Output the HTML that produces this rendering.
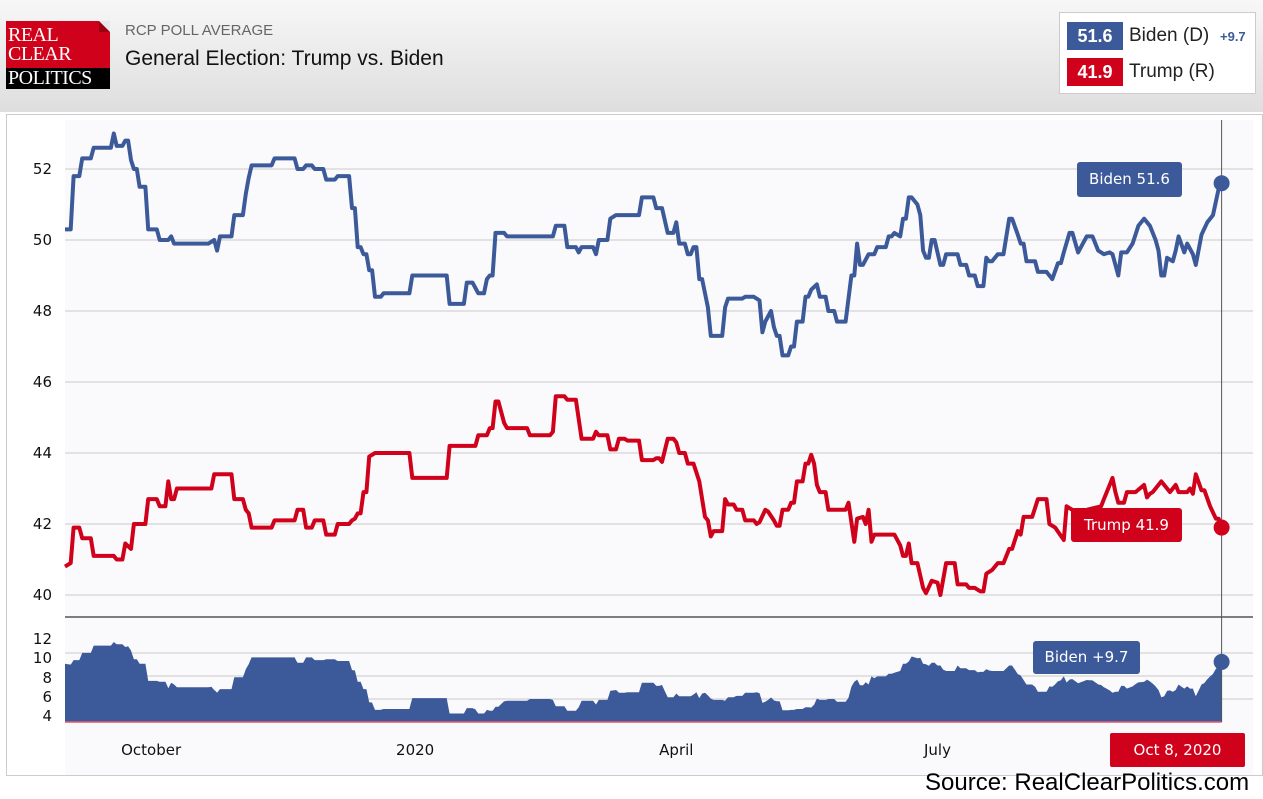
<!DOCTYPE html>
<html><head><meta charset="utf-8">
<style>
html,body{margin:0;padding:0;}
body{width:1263px;height:799px;overflow:hidden;position:relative;font-family:"Liberation Sans",sans-serif;background:linear-gradient(#f6f6f6 0px,#e6e6e6 60px,#dcdcdc 112px,#fff 112px);}
.abs{position:absolute;}
</style></head>
<body>
<div class="abs" style="left:0;top:0;width:1263px;height:112px;background:linear-gradient(#f7f7f7,#dedede);"></div>
<div class="abs" style="left:6px;top:21px;width:104px;height:68px;background:#d0021b;overflow:hidden;">
  <div class="abs" style="right:0;top:0;width:0;height:0;border-top:11px solid #e9e9e9;border-left:11px solid #9a0010;"></div>
  <div class="abs" style="left:0;top:47px;width:104px;height:21px;background:#000;"></div>
  <div class="abs" style="left:2px;top:5px;color:#fff;font-family:'Liberation Serif',serif;font-size:20px;line-height:19px;letter-spacing:-0.5px;">REAL<br>CLEAR</div>
  <div class="abs" style="left:2px;top:47px;color:#fff;font-family:'Liberation Serif',serif;font-size:20px;line-height:21px;letter-spacing:-0.5px;">POLITICS</div>
</div>
<div class="abs" style="left:125px;top:22px;font-size:15px;color:#666;">RCP POLL AVERAGE</div>
<div class="abs" style="left:125px;top:47px;font-size:21px;color:#111;">General Election: Trump vs. Biden</div>

<div class="abs" style="left:1059px;top:12px;width:197px;height:82px;background:#fff;border:1px solid #ccc;box-sizing:border-box;">
  <div class="abs" style="left:7px;top:9px;width:190px;height:28px;">
    <div class="abs" style="left:0;top:0;width:56px;height:28px;background:#3c5a99;color:#fff;font-size:18px;font-weight:bold;text-align:center;line-height:28px;">51.6</div>
    <div class="abs" style="left:62px;top:3px;font-size:19px;color:#222;">Biden (D)</div>
    <div class="abs" style="left:153px;top:7px;font-size:13px;color:#3c5a99;font-weight:bold;">+9.7</div>
  </div>
  <div class="abs" style="left:7px;top:45px;width:190px;height:28px;">
    <div class="abs" style="left:0;top:0;width:56px;height:28px;background:#d0021b;color:#fff;font-size:18px;font-weight:bold;text-align:center;line-height:28px;">41.9</div>
    <div class="abs" style="left:62px;top:3px;font-size:19px;color:#222;">Trump (R)</div>
  </div>
</div>

<div class="abs" style="left:6px;top:114px;width:1257px;height:662px;background:#fff;border:1px solid #ccc;box-sizing:border-box;"></div>

<svg class="abs" style="left:0;top:0;" width="1263" height="799" id="chart">
  <rect x="65" y="120" width="1188" height="655" fill="#fafafd"/>
  <g id="grid"></g>
  <g id="lower"></g>
  <g id="lines"></g>
  <g id="labels" font-family="'DejaVu Sans',sans-serif" font-size="15" fill="#111"></g>
</svg>

<div class="abs" style="left:1077px;top:162px;width:105px;height:35px;background:#3c5a99;border-radius:3px;color:#fff;font-family:'DejaVu Sans',sans-serif;font-size:15px;line-height:35px;text-align:center;">Biden 51.6</div>
<div class="abs" style="left:1071px;top:508px;width:111px;height:34px;background:#d0021b;border-radius:3px;color:#fff;font-family:'DejaVu Sans',sans-serif;font-size:15px;line-height:34px;text-align:center;">Trump 41.9</div>
<div class="abs" style="left:1033px;top:641px;width:107px;height:33px;background:#3c5a99;border-radius:3px;color:#fff;font-family:'DejaVu Sans',sans-serif;font-size:15px;line-height:33px;text-align:center;">Biden +9.7</div>
<div class="abs" style="left:1110px;top:733px;width:135px;height:34px;background:#d0021b;border-radius:2px;color:#fff;font-family:'DejaVu Sans',sans-serif;font-size:15px;line-height:34px;text-align:center;">Oct 8, 2020</div>
<div class="abs" style="left:925px;top:769px;font-size:24px;color:#000;white-space:nowrap;">Source: RealClearPolitics.com</div>

<script>
const bidenDays=[0,2,3,5,6,9,10,16,17,18,20,21,22,23,24,25,26,28,29,32,33,36,37,38,50,52,53,54,58,59,62,63,64,65,72,73,80,81,83,84,86,87,90,91,94,95,99,100,101,102,103,104,105,106,107,108,110,111,120,121,133,134,139,140,142,144,146,147,148,149,150,153,154,170,171,174,175,178,179,180,184,185,186,189,190,192,200,201,205,206,208,210,212,213,214,216,217,218,219,220,221,222,224,225,229,230,231,236,237,240,242,243,244,246,247,248,249,250,252,253,254,255,257,258,259,260,262,263,265,266,268,269,272,274,275,276,277,278,280,282,283,286,287,288,289,291,292,293,294,295,297,298,299,300,301,302,303,305,306,307,311,312,314,315,317,318,320,321,322,323,325,327,329,330,332,333,334,335,338,339,342,344,346,347,348,350,351,353,356,358,360,362,364,365,367,368,370,372,374,376,378,380,381,382,383,384,386,387,388,390,391,393,394,396,398,400,402,403];
const bidenVals=[50.3,50.3,51.8,51.8,52.3,52.3,52.6,52.6,53.0,52.65,52.65,52.8,52.8,52.25,52.0,52.0,51.5,51.5,50.3,50.3,50.0,50.0,50.1,49.9,49.9,50.0,49.7,50.1,50.1,50.7,50.7,51.3,51.75,52.1,52.1,52.3,52.3,52.0,52.0,52.1,52.1,52.0,52.0,51.7,51.7,51.8,51.8,50.9,50.9,49.8,49.8,49.6,49.6,49.15,49.15,48.4,48.4,48.5,48.5,49.0,49.0,48.2,48.2,48.8,48.8,48.5,48.5,48.9,49.0,49.0,50.2,50.2,50.1,50.1,50.4,50.4,49.8,49.8,49.65,49.8,49.8,49.6,50.0,50.0,50.6,50.7,50.7,51.2,51.2,50.9,50.9,50.2,50.2,50.5,49.9,49.9,49.6,49.6,49.8,49.8,48.9,48.9,48.1,47.3,47.3,48.1,48.35,48.35,48.4,48.4,48.3,47.4,47.7,48.0,47.55,47.3,47.3,46.75,46.75,47.0,47.0,47.7,47.7,48.4,48.4,48.6,48.75,48.4,48.4,48.0,48.0,47.7,47.7,49.0,49.0,49.9,49.3,49.3,49.6,49.6,49.8,49.8,50.1,50.1,50.2,50.1,50.6,50.6,51.2,51.2,51.0,50.7,49.7,49.5,49.5,50.0,50.0,49.3,49.3,49.6,49.6,49.3,49.3,49.0,49.0,48.7,48.7,49.5,49.4,49.4,49.6,49.6,50.6,50.6,50.15,49.9,49.9,49.4,49.4,49.1,49.1,48.9,49.35,49.35,49.65,50.2,50.2,49.65,50.1,50.1,49.7,49.6,49.65,49.6,49.0,49.65,49.65,49.9,50.4,50.6,50.4,50.0,49.7,49.0,49.0,49.5,49.4,49.7,50.1,49.65,49.9,49.6,49.3,50.15,50.5,50.7,51.45,51.6];
const trumpDays=[0,2,3,5,6,9,10,17,18,20,21,23,24,28,29,32,33,35,36,37,38,39,51,52,58,59,62,63,64,65,72,73,80,81,83,84,86,87,90,91,94,95,99,100,101,102,103,104,105,106,107,108,120,121,133,134,143,144,147,148,149,150,151,153,154,161,162,169,170,171,174,175,178,180,184,185,186,189,190,192,193,195,196,200,201,205,206,207,208,210,212,213,214,216,217,219,221,223,224,225,226,229,230,231,233,234,236,237,240,241,242,244,245,247,248,249,250,252,253,254,255,257,258,259,260,261,262,263,265,266,272,273,275,276,278,279,280,281,282,289,291,292,293,294,295,297,299,300,302,304,305,307,310,311,314,315,317,319,320,321,323,325,327,329,330,332,333,334,337,339,342,343,345,348,349,353,356,361,362,364,365,366,367,369,370,373,376,377,378,379,382,385,387,388,391,392,393,394,396,397,399,401,402,403];
const trumpVals=[40.8,40.9,41.9,41.9,41.6,41.6,41.1,41.1,41.0,41.0,41.45,41.3,42.0,42.0,42.7,42.7,42.5,42.5,43.2,42.7,42.7,43.0,43.0,43.4,43.4,42.7,42.7,42.4,42.3,41.9,41.9,42.1,42.1,42.4,42.4,41.9,41.9,42.1,42.1,41.7,41.7,42.0,42.0,42.1,42.15,42.3,42.3,42.9,42.9,43.9,43.95,44.0,44.0,43.3,43.3,44.2,44.2,44.5,44.5,44.7,44.7,45.45,45.45,44.85,44.7,44.7,44.5,44.5,44.6,45.6,45.6,45.5,45.5,44.4,44.4,44.6,44.5,44.5,44.1,44.1,44.4,44.4,44.35,44.35,43.8,43.8,43.85,43.85,43.75,44.4,44.4,44.3,44.0,44.0,43.7,43.7,43.2,42.2,42.1,41.65,41.8,41.8,42.7,42.55,42.55,42.4,42.4,42.1,42.1,42.0,42.05,42.4,42.35,42.1,41.95,41.95,42.4,42.4,42.6,42.6,43.2,43.2,43.7,43.7,43.95,43.7,43.1,42.9,42.9,42.4,42.4,42.6,41.5,42.15,42.2,42.0,42.4,41.5,41.7,41.7,41.4,41.1,41.1,41.45,40.9,40.9,40.2,40.05,40.4,40.35,40.0,40.9,40.9,40.3,40.3,40.2,40.2,40.1,40.1,40.6,40.7,40.9,40.9,41.3,41.3,41.8,41.7,42.2,42.2,42.7,42.7,42.0,41.9,41.55,42.5,42.3,42.4,42.5,42.7,43.1,43.3,42.9,42.6,42.6,42.9,42.9,43.1,42.75,42.85,42.9,43.2,42.9,43.1,42.9,42.9,43.0,42.85,43.4,42.95,42.95,42.5,42.15,42.15,41.9];
const topTicks=[52,50,48,46,44,42,40];
const lowerTickLabels=["12","10","8","6","4"];
const monthLabels=["October","2020","April","July"];
const monthDays=[30,122,213,304];

const NS="http://www.w3.org/2000/svg";
const X0=65, XPD=2.87;
function xs(d){return X0+d*XPD;}
function yTop(v){return 595-(v-40)*35.5;}
function yLow(v){return 749.7-9.05*v;}
function mk(tag,attrs,parent){const e=document.createElementNS(NS,tag);for(const k in attrs)e.setAttribute(k,attrs[k]);parent.appendChild(e);return e;}
function interp(days,vals,d){
  if(d<=days[0])return vals[0];
  for(let i=1;i<days.length;i++){if(d<=days[i]){const t=(d-days[i-1])/(days[i]-days[i-1]||1);return vals[i-1]+t*(vals[i]-vals[i-1]);}}
  return vals[vals.length-1];
}
const grid=document.getElementById('grid'),lower=document.getElementById('lower'),lines=document.getElementById('lines'),labels=document.getElementById('labels');
topTicks.forEach(t=>{
  const l=mk('line',{x1:65,x2:1253,y1:yTop(t),y2:yTop(t),stroke:'#d9d9d9','stroke-width':1.5},grid);
  
  
  const tx=mk('text',{x:52,y:yTop(t)+5,'text-anchor':'end'},labels);tx.textContent=t;
  
  
});
[653,676,699].forEach((y,i)=>{
  const l=mk('line',{x1:65,x2:1253,y1:y,y2:y,stroke:'#d9d9d9','stroke-width':1.5},grid);
  
  
});
const lowY=[644,663,683,702,721];
lowerTickLabels.forEach((t,i)=>{
  const tx=mk('text',{x:52,y:lowY[i],'text-anchor':'end'},labels);tx.textContent=t;
  
  
});
monthLabels.forEach((m,i)=>{
  const tx=mk('text',{x:xs(monthDays[i]),y:755,'text-anchor':'middle'},labels);tx.textContent=m;
  
  
});
const last=bidenDays[bidenDays.length-1];
let pts=[];
for(let d=0;d<=last;d+=0.5){const s=interp(bidenDays,bidenVals,d)-interp(trumpDays,trumpVals,d);pts.push(xs(d).toFixed(1)+','+yLow(s).toFixed(1));}
const area=mk('path',{d:'M'+xs(0)+',722 L'+pts.join(' L')+' L'+xs(last)+',722 Z',fill:'#3c5a99'},lower);


const base=mk('line',{x1:65,x2:xs(last),y1:722,y2:722,stroke:'#e8566a','stroke-width':1.5},lower);


const sep=mk('line',{x1:65,x2:1253,y1:617,y2:617,stroke:'#555','stroke-width':1.5},lower);


const cross=mk('line',{x1:xs(last),x2:xs(last),y1:120,y2:722,stroke:'#555','stroke-width':1},lower);


function series(days,vals,color,name){
  const p=mk('polyline',{points:days.map((d,i)=>xs(d).toFixed(1)+','+yTop(vals[i]).toFixed(1)).join(' '),fill:'none',stroke:color,'stroke-width':4,'stroke-linejoin':'round'},lines);
  
  
  const c=mk('circle',{cx:xs(days[days.length-1]),cy:yTop(vals[vals.length-1]),r:8,fill:color},lines);
  
  
}
series(bidenDays,bidenVals,'#3c5a99','biden');
series(trumpDays,trumpVals,'#d0021b','trump');
const spreadEnd=bidenVals[bidenVals.length-1]-trumpVals[trumpVals.length-1];
const sc=mk('circle',{cx:xs(last),cy:yLow(spreadEnd),r:8,fill:'#3c5a99'},lines);


</script>
</body></html>
